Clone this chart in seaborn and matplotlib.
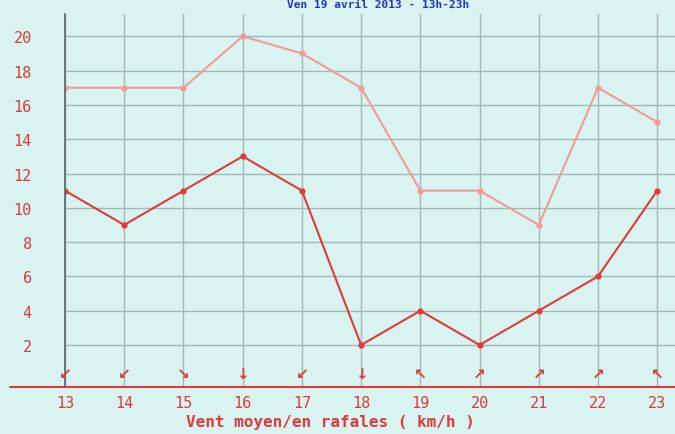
import pandas as pd
import seaborn as sns
import matplotlib.pyplot as plt
from matplotlib.lines import Line2D

hours = [13, 14, 15, 16, 17, 18, 19, 20, 21, 22, 23]
rafales = [17, 17, 17, 20, 19, 17, 11, 11, 9, 17, 15]
moyen = [11, 9, 11, 13, 11, 2, 4, 2, 4, 6, 11]
directions = ['↙', '↙', '↘', '↓', '↙', '↓', '↖', '↗', '↗', '↗', '↖']
yticks = [2, 4, 6, 8, 10, 12, 14, 16, 18, 20]

BG = '#d9f3f0'
RED = '#e03a3a'
PINK = '#f29a9a'

df = pd.DataFrame({'heure': hours, 'rafales': rafales, 'moyen': moyen})

sns.set_style('white')
plt.rcParams['font.family'] = ['DejaVu Sans Mono', 'DejaVu Sans']

fig = plt.figure(figsize=(6.75, 4.35), dpi=100, facecolor=BG)
ax = fig.add_axes([0.0963, 0.108, 0.9037, 0.8575])
ax.set_facecolor(BG)

sns.lineplot(data=df, x='heure', y='rafales', ax=ax, color=PINK, lw=1.5,
             marker='o', markersize=4.5, markeredgewidth=0)
sns.lineplot(data=df, x='heure', y='moyen', ax=ax, color=RED, lw=1.5,
             marker='o', markersize=4.5, markeredgewidth=0)

for h, d in zip(hours, directions):
    ax.text(h, 0.35, d, color=RED, fontsize=11, fontweight='bold',
            ha='center', va='center', family=['DejaVu Sans'])

ax.set_xlim(13, 23.3)
ax.set_ylim(-0.45, 21.3)
ax.set_xticks(hours)
ax.set_yticks(yticks)
ax.set_xticklabels([str(h) for h in hours])
ax.tick_params(length=0, colors=RED, labelsize=11, pad=6)
ax.tick_params(axis='y', pad=24)
ax.grid(True, color='#a3b7b5', lw=1)
ax.set_axisbelow(True)
for s in ['top', 'right', 'bottom']:
    ax.spines[s].set_visible(False)
ax.spines['left'].set_color('#566')
ax.spines['left'].set_linewidth(1.2)
ax.set_xlabel('')
ax.set_ylabel('')

# red baseline extending left of the plot
fig.add_artist(Line2D([0.015, 1.0], [0.108, 0.108], color=RED, lw=1.5,
                      transform=fig.transFigure))

fig.text(0.49, 0.012, 'Vent moyen/en rafales ( km/h )', color=RED,
         fontsize=11.5, fontweight='bold', ha='center', va='bottom')
fig.text(0.56, 0.999, 'Ven 19 avril 2013 - 13h-23h', color='#2233cc',
         fontsize=8, fontweight='bold', ha='center', va='top')

fig.savefig('out.png', dpi=100, facecolor=BG)
